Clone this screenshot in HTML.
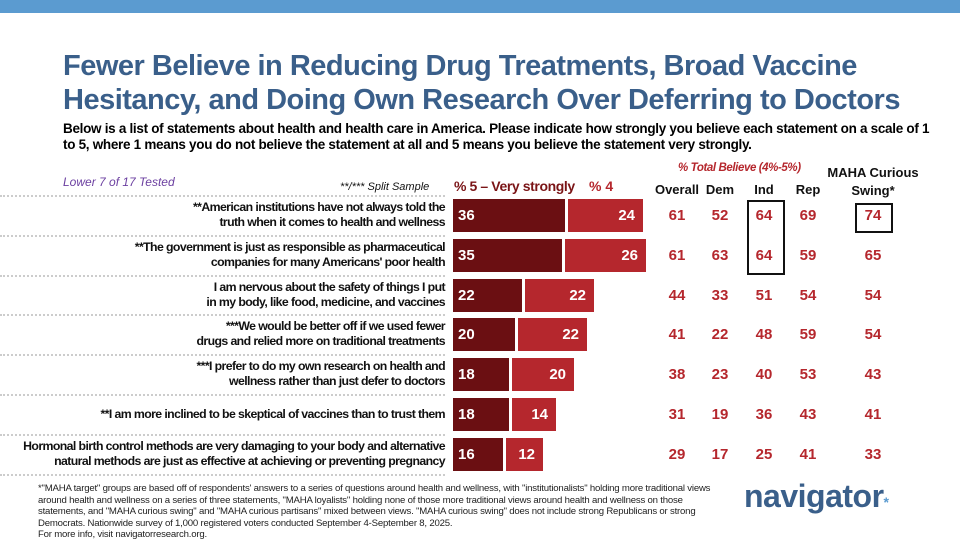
<!DOCTYPE html>
<html><head><meta charset="utf-8"><style>
body{margin:0;width:960px;height:540px;background:#fff;font-family:"Liberation Sans",sans-serif;position:relative;overflow:hidden}
.a{position:absolute;white-space:nowrap}
.t{left:63px;color:#3a5f8a;font-weight:bold;font-size:29px;letter-spacing:-0.5px}
.lab{right:515px;text-align:right;font-size:12.3px;font-weight:bold;line-height:15px;letter-spacing:-0.6px;color:#111}
.sep{left:0;width:445px;border-top:2px dotted #ccc;height:0}
.b{position:absolute;height:33px;color:#fff;font-weight:bold;font-size:15px;line-height:33px;box-sizing:border-box}
.d{background:#6b0f12;padding-left:5px}
.l{background:#b5272d;text-align:right;padding-right:8px}
.v{color:#b5272d;font-weight:bold;font-size:15px;width:40px;text-align:center}
.h{font-size:13px;font-weight:bold;color:#111;width:60px;text-align:center}
</style></head><body>
<div class="a" style="left:0;top:0;width:960px;height:13px;background:#5b9bd0"></div>
<div class="a t" style="top:50px">Fewer Believe in Reducing Drug Treatments, Broad Vaccine</div>
<div class="a t" style="top:84px">Hesitancy, and Doing Own Research Over Deferring to Doctors</div>
<div class="a" style="left:63px;top:121px;font-size:13.5px;font-weight:bold;line-height:16px;letter-spacing:-0.3px">Below is a list of statements about health and health care in America. Please indicate how strongly you believe each statement on a scale of 1<br>to 5, where 1 means you do not believe the statement at all and 5 means you believe the statement very strongly.</div>
<div class="a" style="left:63px;top:175px;font-size:12px;font-style:italic;color:#6b3fa0">Lower 7 of 17 Tested</div>
<div class="a" style="left:340px;top:181px;font-size:11px;font-style:italic;color:#111">**/*** Split Sample</div>
<div class="a" style="left:454px;top:178px;font-size:14px;font-weight:bold;color:#7a1416;letter-spacing:-0.4px">% 5 – Very strongly</div>
<div class="a" style="left:589px;top:178px;font-size:14px;font-weight:bold;color:#b5272d">% 4</div>
<div class="a" style="left:678px;top:162px;font-size:11.5px;font-weight:bold;font-style:italic;color:#b5272d;letter-spacing:-0.4px">% Total Believe (4%-5%)</div>
<div class="a h" style="left:647px;top:182px">Overall</div>
<div class="a h" style="left:690px;top:182px">Dem</div>
<div class="a h" style="left:734px;top:182px">Ind</div>
<div class="a h" style="left:778px;top:182px">Rep</div>
<div class="a h" style="left:823px;top:164px;width:100px;line-height:18px">MAHA Curious<br>Swing*</div>
<div class="a" style="left:747px;top:200px;width:34px;height:71px;border:2px solid #111"></div>
<div class="a" style="left:855px;top:203px;width:34px;height:26px;border:2px solid #111"></div>

<div class="a sep" style="top:195px"></div>
<div class="a lab" style="top:200px">**American institutions have not always told the<br>truth when it comes to health and wellness</div>
<div class="b d" style="left:453px;top:199px;width:112px">36</div>
<div class="b l" style="left:568px;top:199px;width:75px">24</div>
<div class="a v" style="left:657px;top:207px">61</div><div class="a v" style="left:700px;top:207px">52</div><div class="a v" style="left:744px;top:207px">64</div><div class="a v" style="left:788px;top:207px">69</div><div class="a v" style="left:853px;top:207px">74</div>

<div class="a sep" style="top:235px"></div>
<div class="a lab" style="top:240px">**The government is just as responsible as pharmaceutical<br>companies for many Americans' poor health</div>
<div class="b d" style="left:453px;top:239px;width:109px">35</div>
<div class="b l" style="left:565px;top:239px;width:81px">26</div>
<div class="a v" style="left:657px;top:247px">61</div><div class="a v" style="left:700px;top:247px">63</div><div class="a v" style="left:744px;top:247px">64</div><div class="a v" style="left:788px;top:247px">59</div><div class="a v" style="left:853px;top:247px">65</div>

<div class="a sep" style="top:275px"></div>
<div class="a lab" style="top:280px">I am nervous about the safety of things I put<br>in my body, like food, medicine, and vaccines</div>
<div class="b d" style="left:453px;top:279px;width:69px">22</div>
<div class="b l" style="left:525px;top:279px;width:69px">22</div>
<div class="a v" style="left:657px;top:287px">44</div><div class="a v" style="left:700px;top:287px">33</div><div class="a v" style="left:744px;top:287px">51</div><div class="a v" style="left:788px;top:287px">54</div><div class="a v" style="left:853px;top:287px">54</div>

<div class="a sep" style="top:314px"></div>
<div class="a lab" style="top:319px">***We would be better off if we used fewer<br>drugs and relied more on traditional treatments</div>
<div class="b d" style="left:453px;top:318px;width:62px">20</div>
<div class="b l" style="left:518px;top:318px;width:69px">22</div>
<div class="a v" style="left:657px;top:326px">41</div><div class="a v" style="left:700px;top:326px">22</div><div class="a v" style="left:744px;top:326px">48</div><div class="a v" style="left:788px;top:326px">59</div><div class="a v" style="left:853px;top:326px">54</div>

<div class="a sep" style="top:354px"></div>
<div class="a lab" style="top:359px">***I prefer to do my own research on health and<br>wellness rather than just defer to doctors</div>
<div class="b d" style="left:453px;top:358px;width:56px">18</div>
<div class="b l" style="left:512px;top:358px;width:62px">20</div>
<div class="a v" style="left:657px;top:366px">38</div><div class="a v" style="left:700px;top:366px">23</div><div class="a v" style="left:744px;top:366px">40</div><div class="a v" style="left:788px;top:366px">53</div><div class="a v" style="left:853px;top:366px">43</div>

<div class="a sep" style="top:394px"></div>
<div class="a lab" style="top:407px">**I am more inclined to be skeptical of vaccines than to trust them</div>
<div class="b d" style="left:453px;top:398px;width:56px">18</div>
<div class="b l" style="left:512px;top:398px;width:44px">14</div>
<div class="a v" style="left:657px;top:406px">31</div><div class="a v" style="left:700px;top:406px">19</div><div class="a v" style="left:744px;top:406px">36</div><div class="a v" style="left:788px;top:406px">43</div><div class="a v" style="left:853px;top:406px">41</div>

<div class="a sep" style="top:434px"></div>
<div class="a lab" style="top:439px">Hormonal birth control methods are very damaging to your body and alternative<br>natural methods are just as effective at achieving or preventing pregnancy</div>
<div class="b d" style="left:453px;top:438px;width:50px">16</div>
<div class="b l" style="left:506px;top:438px;width:37px">12</div>
<div class="a v" style="left:657px;top:446px">29</div><div class="a v" style="left:700px;top:446px">17</div><div class="a v" style="left:744px;top:446px">25</div><div class="a v" style="left:788px;top:446px">41</div><div class="a v" style="left:853px;top:446px">33</div>

<div class="a sep" style="top:474px"></div>

<div class="a" style="left:38px;top:483px;font-size:9.6px;line-height:11.5px;color:#222;letter-spacing:-0.2px">*"MAHA target" groups are based off of respondents' answers to a series of questions around health and wellness, with "institutionalists" holding more traditional views<br>around health and wellness on a series of three statements, "MAHA loyalists" holding none of those more traditional views around health and wellness on those<br>statements, and "MAHA curious swing" and "MAHA curious partisans" mixed between views. "MAHA curious swing" does not include strong Republicans or strong<br>Democrats. Nationwide survey of 1,000 registered voters conducted September 4-September 8, 2025.<br>For more info, visit navigatorresearch.org.</div>
<div class="a" style="left:744px;top:478px;font-size:32px;font-weight:bold;color:#3a5f8a;letter-spacing:-0.5px">navigator<span style="color:#5b9bd0;font-size:14px">*</span></div>
</body></html>
